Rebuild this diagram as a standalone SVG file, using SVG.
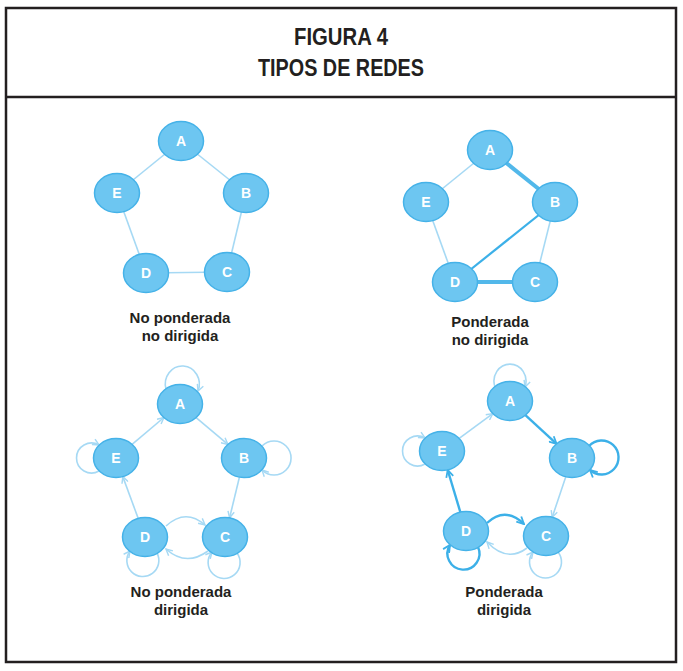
<svg xmlns="http://www.w3.org/2000/svg" width="683" height="671" viewBox="0 0 683 671">
<style>
.frame{fill:none;stroke:#231f20;stroke-width:2.5}
.title{font-family:"Liberation Sans",Arial,sans-serif;font-weight:bold;font-size:24px;fill:#231f20;text-anchor:middle}
.cap{font-family:"Liberation Sans",Arial,sans-serif;font-weight:bold;font-size:15px;fill:#231f20;text-anchor:middle}
.node ellipse{fill:#6dc6f1;stroke:#45b2e8;stroke-width:1.5}
.node text{font-family:"Liberation Sans",Arial,sans-serif;font-weight:bold;font-size:14px;fill:#ffffff;text-anchor:middle}
.lt{fill:none;stroke:#a6d9f4;stroke-width:1.6}
.md{fill:none;stroke:#3cb0e8;stroke-width:2.2}
.tk{fill:none;stroke:#52b8ea;stroke-width:4}
.la{fill:none;stroke:#a6d9f4;stroke-width:1.6;marker-end:url(#ml)}
.da{fill:none;stroke:#3cb0e8;stroke-width:2.4;marker-end:url(#md)}
</style>
<defs>
<marker id="ml" viewBox="0 0 10 10" refX="9" refY="5" markerWidth="8" markerHeight="8" markerUnits="userSpaceOnUse" orient="auto"><path d="M1,1 L9,5 L1,9" fill="none" stroke="#a6d9f4" stroke-width="1.8"/></marker>
<marker id="md" viewBox="0 0 10 10" refX="9" refY="5" markerWidth="9" markerHeight="9" markerUnits="userSpaceOnUse" orient="auto"><path d="M1,1 L9,5 L1,9" fill="none" stroke="#3cb0e8" stroke-width="2"/></marker>
</defs>
<rect class="frame" x="6" y="8" width="670" height="654"/>
<line class="frame" x1="6" y1="97" x2="676" y2="97"/>
<text class="title" x="341" y="45" textLength="94" lengthAdjust="spacingAndGlyphs">FIGURA 4</text>
<text class="title" x="341" y="76" textLength="166" lengthAdjust="spacingAndGlyphs">TIPOS DE REDES</text>

<g id="connectors">
<!-- panel 1 -->
<line class="lt" x1="181" y1="141" x2="246" y2="193"/>
<line class="lt" x1="181" y1="141" x2="117" y2="193"/>
<line class="lt" x1="117" y1="193" x2="146" y2="273"/>
<line class="lt" x1="246" y1="193" x2="227" y2="272"/>
<line class="lt" x1="146" y1="273" x2="227" y2="272"/>
<!-- panel 2 -->
<line class="lt" x1="490" y1="150" x2="426" y2="202"/>
<line class="lt" x1="426" y1="202" x2="455" y2="282"/>
<line class="lt" x1="555" y1="202" x2="535" y2="282"/>
<line class="tk" x1="490" y1="150" x2="555" y2="202"/>
<line class="md" x1="555" y1="202" x2="455" y2="282"/>
<line class="tk" x1="455" y1="282" x2="535" y2="282"/>
<!-- panel 3 -->
<line class="la" x1="132.1" y1="444.4" x2="163.9" y2="417.5"/>
<line class="la" x1="196.1" y1="417.6" x2="227.9" y2="444.4"/>
<line class="la" x1="239.4" y1="477.2" x2="229.6" y2="517.8"/>
<line class="la" x1="138.2" y1="518.4" x2="122.8" y2="476.6"/>
<path class="la" d="M166,526 Q185.5,508 205,525"/>
<path class="la" d="M208,551 Q186,567 166,549"/>
<path class="la" d="M166,389 A17,18 0 1,1 198,391"/>
<path class="la" d="M99,471 A15,15 0 1,1 99,445"/>
<path class="la" d="M262,446 A17,17 0 1,1 262,470"/>
<path class="la" d="M157,553 A16,16 0 1,1 130,551"/>
<path class="la" d="M237,553 A16,16 0 1,1 212,552"/>
<!-- panel 4 -->
<line class="la" x1="459.2" y1="438.4" x2="492.8" y2="413.6"/>
<line class="da" x1="525.4" y1="415.2" x2="556.6" y2="443.8"/>
<line class="la" x1="565.8" y1="476.7" x2="552.2" y2="517.3"/>
<line class="da" x1="460.3" y1="512" x2="447.7" y2="470"/>
<path class="da" d="M487,523 Q505,506 524,524"/>
<path class="la" d="M527,548 Q507,563 487,542"/>
<path class="la" d="M495,387 A16,17 0 1,1 525,387"/>
<path class="la" d="M425,464 A15,15 0 1,1 425,438"/>
<path class="da" d="M589,446 A17,17 0 1,1 590,470"/>
<path class="da" d="M478,547 A16,16 0 1,1 450,545"/>
<path class="la" d="M558,552 A16,16 0 1,1 533,552"/>
</g>

<g id="p1-A" class="node"><ellipse cx="181" cy="141" rx="22.5" ry="19.5"/><text x="181" y="146">A</text></g>
<g id="p1-B" class="node"><ellipse cx="246" cy="193" rx="22.5" ry="19.5"/><text x="246" y="198">B</text></g>
<g id="p1-C" class="node"><ellipse cx="227" cy="272" rx="22.5" ry="19.5"/><text x="227" y="277">C</text></g>
<g id="p1-D" class="node"><ellipse cx="146" cy="273" rx="22.5" ry="19.5"/><text x="146" y="278">D</text></g>
<g id="p1-E" class="node"><ellipse cx="117" cy="193" rx="22.5" ry="19.5"/><text x="117" y="198">E</text></g>

<g id="p2-A" class="node"><ellipse cx="490" cy="150" rx="22.5" ry="19.5"/><text x="490" y="155">A</text></g>
<g id="p2-B" class="node"><ellipse cx="555" cy="202" rx="22.5" ry="19.5"/><text x="555" y="207">B</text></g>
<g id="p2-C" class="node"><ellipse cx="535" cy="282" rx="22.5" ry="19.5"/><text x="535" y="287">C</text></g>
<g id="p2-D" class="node"><ellipse cx="455" cy="282" rx="22.5" ry="19.5"/><text x="455" y="287">D</text></g>
<g id="p2-E" class="node"><ellipse cx="426" cy="202" rx="22.5" ry="19.5"/><text x="426" y="207">E</text></g>

<g id="p3-A" class="node"><ellipse cx="180" cy="404" rx="22.5" ry="19.5"/><text x="180" y="409">A</text></g>
<g id="p3-B" class="node"><ellipse cx="244" cy="458" rx="22.5" ry="19.5"/><text x="244" y="463">B</text></g>
<g id="p3-C" class="node"><ellipse cx="225" cy="537" rx="22.5" ry="19.5"/><text x="225" y="542">C</text></g>
<g id="p3-D" class="node"><ellipse cx="145" cy="537" rx="22.5" ry="19.5"/><text x="145" y="542">D</text></g>
<g id="p3-E" class="node"><ellipse cx="116" cy="458" rx="22.5" ry="19.5"/><text x="116" y="463">E</text></g>

<g id="p4-A" class="node"><ellipse cx="510" cy="401" rx="22.5" ry="19.5"/><text x="510" y="406">A</text></g>
<g id="p4-B" class="node"><ellipse cx="572" cy="458" rx="22.5" ry="19.5"/><text x="572" y="463">B</text></g>
<g id="p4-C" class="node"><ellipse cx="546" cy="536" rx="22.5" ry="19.5"/><text x="546" y="541">C</text></g>
<g id="p4-D" class="node"><ellipse cx="466" cy="531" rx="22.5" ry="19.5"/><text x="466" y="536">D</text></g>
<g id="p4-E" class="node"><ellipse cx="442" cy="451" rx="22.5" ry="19.5"/><text x="442" y="456">E</text></g>

<g id="captions">
<text class="cap" x="180" y="323">No ponderada</text>
<text class="cap" x="180" y="341">no dirigida</text>
<text class="cap" x="490" y="327">Ponderada</text>
<text class="cap" x="490" y="345">no dirigida</text>
<text class="cap" x="181" y="597">No ponderada</text>
<text class="cap" x="181" y="615">dirigida</text>
<text class="cap" x="504" y="597">Ponderada</text>
<text class="cap" x="504" y="615">dirigida</text>
</g>
</svg>
